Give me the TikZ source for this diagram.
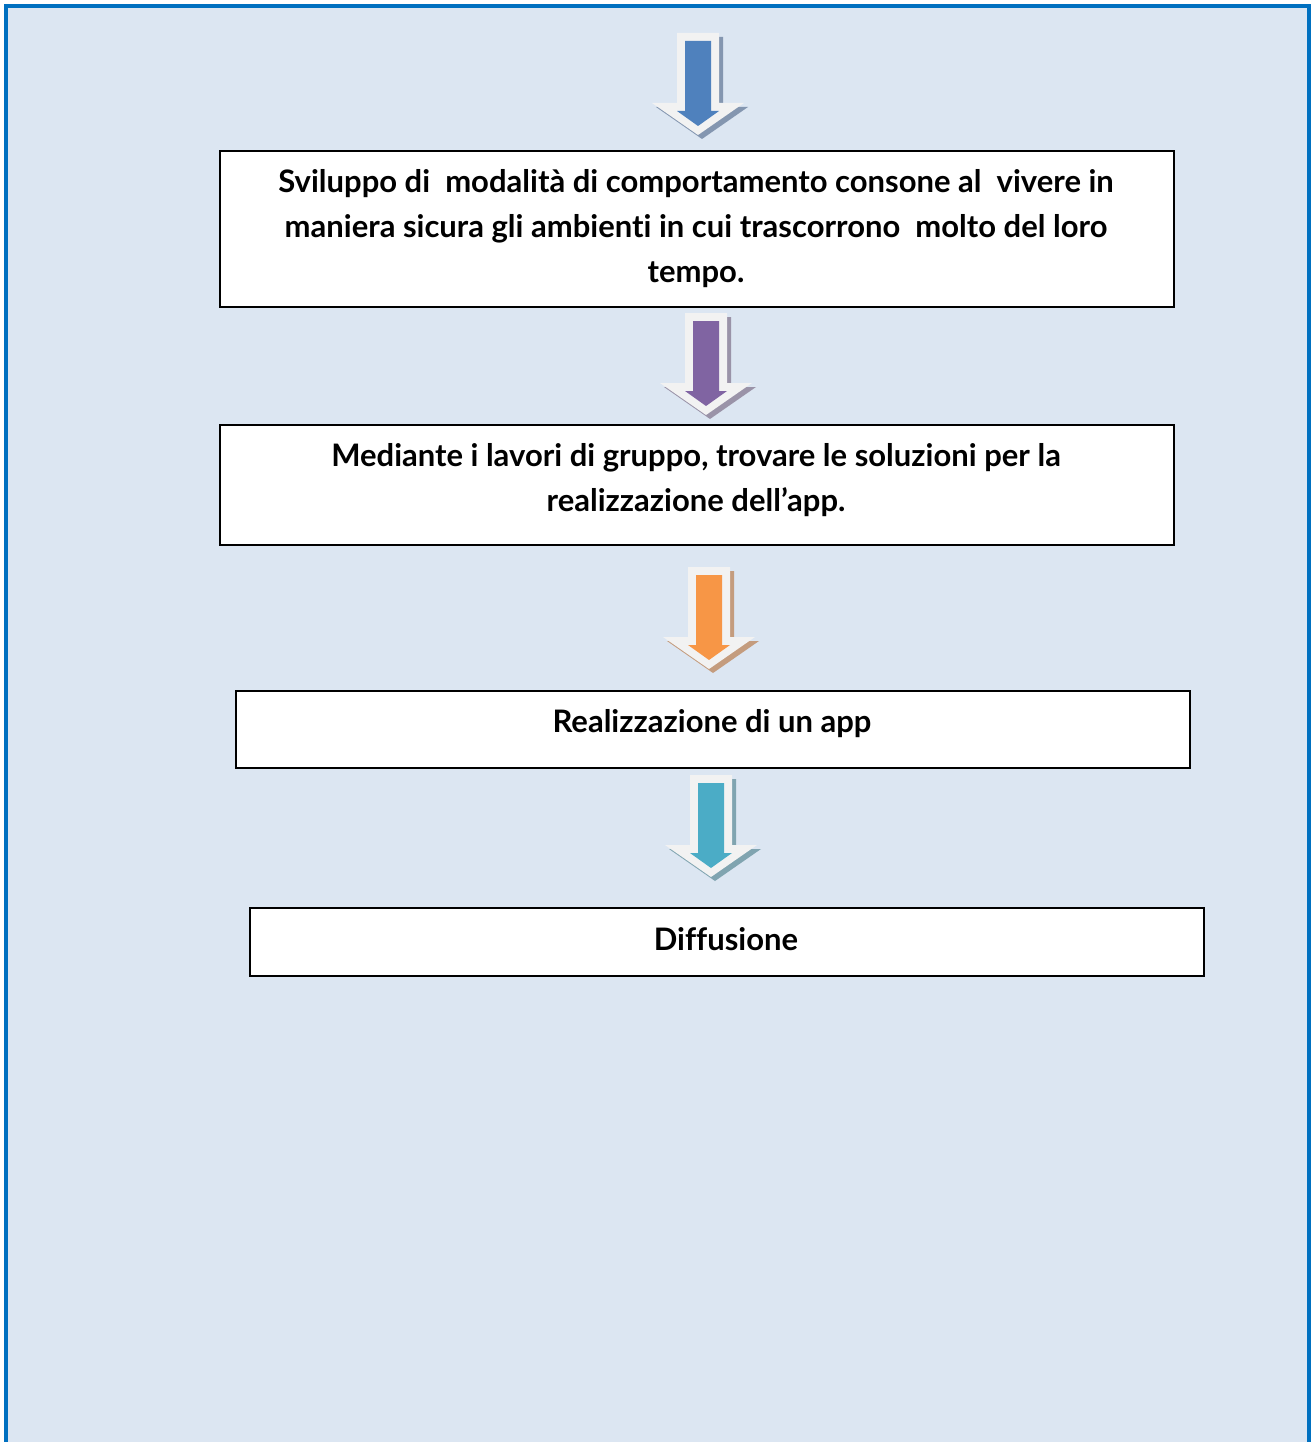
\documentclass[tikz,border=0pt]{standalone}
\usepackage{fontspec}
\setmainfont[Ligatures={NoCommon}]{Lato}
\definecolor{bgc}{HTML}{DCE6F2}
\definecolor{framec}{HTML}{0070C0}
\definecolor{awhite}{HTML}{F2F2F2}
\definecolor{ablue}{HTML}{4F81BD}
\definecolor{ablueS}{HTML}{8496B0}
\definecolor{apurple}{HTML}{8064A2}
\definecolor{apurpleS}{HTML}{9A93A8}
\definecolor{aorange}{HTML}{F79646}
\definecolor{aorangeS}{HTML}{C49C7E}
\definecolor{ateal}{HTML}{4BACC6}
\definecolor{atealS}{HTML}{80A4B0}
\tikzset{
  x=1pt, y=-1pt,
  box/.style={draw=black, line width=1.6pt, fill=white},
  txt/.style={font=\fontsize{31}{45}\selectfont\bfseries, align=center, anchor=north, inner sep=0pt},
  pics/blockarrow/.style 2 args={code={
    \fill[#2] (4-21,4) -- (4+21,4) -- (4+21,4+70) -- (4+46,4+70) -- (4,4+102) -- (4-46,4+70) -- (4-21,4+70) -- cycle;
    \fill[awhite] (-21,0) -- (21,0) -- (21,70) -- (46,70) -- (0,102) -- (-46,70) -- (-21,70) -- cycle;
    \fill[#1] (-13,8) -- (13,8) -- (13,78) -- (21,78) -- (0,93) -- (-21,78) -- (-13,78) -- cycle;
  }}
}
\begin{document}
\begin{tikzpicture}
\useasboundingbox (0,0) rectangle (1311,1442);
\fill[bgc] (5,5) rectangle (1311,1442);
\fill[framec] (4,4) rectangle (1311,8);
\fill[framec] (4,4) rectangle (8,1442);
\fill[framec] (1307,4) rectangle (1311,1442);

\pic at (698,33) {blockarrow={ablue}{ablueS}};
\pic at (706,313) {blockarrow={apurple}{apurpleS}};
\pic at (709,567) {blockarrow={aorange}{aorangeS}};
\pic at (711,775) {blockarrow={ateal}{atealS}};

\node[box, minimum width=954pt, minimum height=156pt, anchor=north west] (b1) at (219,150) {};
\node[txt] (t1) at (696,169) {Sviluppo di\ \ modalità di comportamento consone al\ \ vivere in\\maniera sicura gli ambienti in cui trascorrono\ \ molto del loro\\tempo.};

\node[box, minimum width=954pt, minimum height=120pt, anchor=north west] (b2) at (219,424) {};
\node[txt] (t2) at (696,443) {Mediante i lavori di gruppo, trovare le soluzioni per la\\realizzazione dell’app.};

\node[box, minimum width=954pt, minimum height=77pt, anchor=north west] (b3) at (235,690) {};
\node[txt] (t3) at (712,709) {Realizzazione di un app};

\node[box, minimum width=954pt, minimum height=68pt, anchor=north west] (b4) at (249,907) {};
\node[txt] (t4) at (726,927) {Diffusione};
\end{tikzpicture}
\end{document}
